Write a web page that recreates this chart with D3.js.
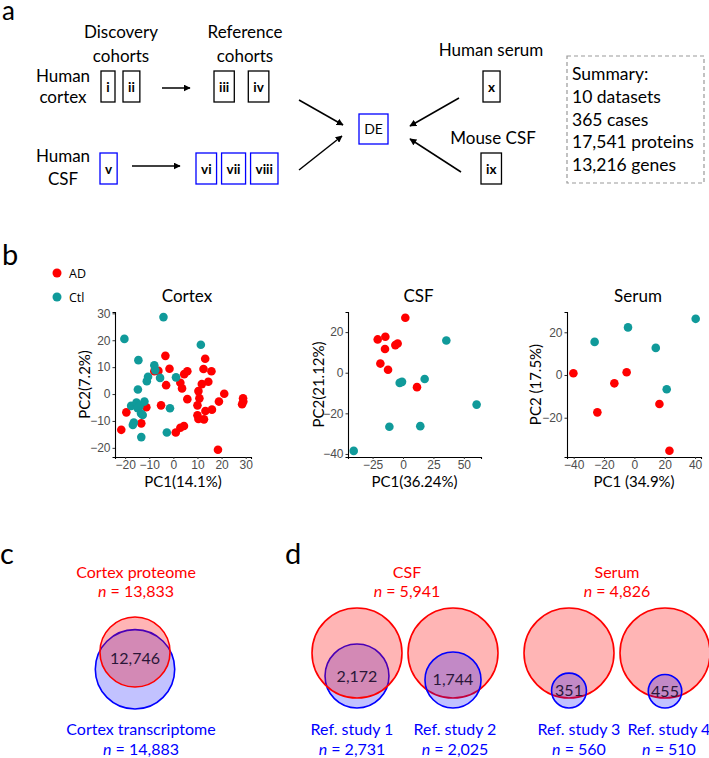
<!DOCTYPE html>
<html><head><meta charset="utf-8">
<script src="https://cdn.jsdelivr.net/npm/d3@7"></script>
<style>body{margin:0;background:#fff}</style>
</head><body>
<svg id="fig" width="709" height="758"></svg>
<script>
// ================= DATA =================
// Panel a: cohort boxes
const cortexDiscovery = ['i', 'ii'];
const cortexReference = ['iii', 'iv'];
const csfDiscovery = ['v'];
const csfReference = ['vi', 'vii', 'viii'];
const serumCohort = ['x'];
const mouseCohort = ['ix'];
const summaryLines = ['Summary:', '10 datasets', '365 cases', '17,541 proteins', '13,216 genes'];

// Panel b: PCA scores [PC1, PC2]
const cortexAD = [[-3.3,14.2],[13.2,13.1],[-7.9,8.5],[-6.2,8.6],[-1.6,9.4],[4.5,7.4],[5.8,8.5],[12.5,9.3],[15.8,8.5],[14.5,4.6],[11.8,3.7],[2.9,4.2],[3.6,2.1],[-3,3.3],[10.4,1.1],[10.8,-1.6],[5.8,-1.9],[21.1,0.1],[28.9,-1.6],[29,-2.8],[28.5,-3.8],[18.9,-2.8],[10,-4.2],[16,-5.8],[13.3,-6.3],[10,-7.9],[10.4,-9.3],[12.7,-9.4],[-5.1,-4.2],[-11.2,-4.9],[-19.5,-6.8],[-13.3,-10.9],[-21.6,-13.3],[2.9,-12.5],[4.4,-11.9],[1,-14.3],[18.5,-20.7]];
const cortexCtl = [[-4.1,28.6],[-20.3,20.5],[11.4,18.3],[-14.5,12.6],[-7.9,10.7],[-7.5,8.9],[-10.5,6.4],[-11,4.8],[-5.5,6],[1.1,6.2],[-14.7,1.7],[-17.5,-4.4],[-15.3,-3.2],[-14,-4.4],[-12,-2.8],[-14.8,-5.3],[-13.4,-7.2],[-12.7,-7.8],[-16.4,-10.6],[-16.8,-11.5],[-1.4,-5.3],[-2.7,-14.3],[-13.3,-16]];
const csfAD = [[1.9,27.1],[-20.8,16.4],[-14.5,17.7],[-14.8,11.7],[-6.3,13.6],[-4.4,14.4],[-18.6,4.5],[-12.3,1.5],[11.5,-7.1]];
const csfCtl = [[35.6,15.9],[-2.7,-5],[-0.8,-4.5],[17.8,-3.1],[60.5,-15.7],[-11.2,-26.6],[14.2,-26.3],[-40.5,-38.5]];
const serumAD = [[-40.2,0.8],[-5.1,1.3],[-13.2,-3.9],[-24.4,-17.5],[16.5,-13.6],[23.1,-35.5]];
const serumCtl = [[40.4,26.3],[-4.2,22.3],[-26.2,15.5],[14.1,12.7],[21.3,-6.7]];
const pcaTitles = ['Cortex', 'CSF', 'Serum'];
const pc1Labels = ['PC1(14.1%)', 'PC1(36.24%)', 'PC1 (34.9%)'];
const pc2Labels = ['PC2(7.2%)', 'PC2(21.12%)', 'PC2 (17.5%)'];
const xTickSets = [[-20,-10,0,10,20,30], [-25,0,25,50], [-40,-20,0,20,40]];
const yTickSets = [[-20,-10,0,10,20,30], [-40,-20,0,20], [-20,0,20]];
const xDomains = [[-24.2,32.2], [-45.2,64.1], [-44.4,43.9]];
const yDomains = [[-23.4,30.5], [-41.5,29.9], [-38.4,29.5]];
const groupNames = ['AD', 'Ctl'];

// Panel c
const cortexSets = ['Cortex proteome', 'Cortex transcriptome'];
const cortexCounts = [13833, 14883];
const cortexOverlap = 12746;

// Panel d
const biofluids = ['CSF', 'Serum'];
const biofluidCounts = [5941, 4826];
const refStudies = ['Ref. study 1', 'Ref. study 2', 'Ref. study 3', 'Ref. study 4'];
const refStudyFluid = [0, 0, 1, 1];
const refCounts = [2731, 2025, 560, 510];
const refOverlaps = [2172, 1744, 351, 455];

// ================= DRAWING =================
const FONT = 'Lato, "Open Sans", sans-serif';
const RED = '#ff0000', BLUE = '#0000ff', TEAL = '#109a9a';
const svg = d3.select('#fig');
svg.append('rect').attr('width', 709).attr('height', 758).attr('fill', '#fff');

function txt(g, x, y, s, opt = {}) {
  return g.append('text').attr('x', x).attr('y', y).text(s)
    .attr('font-family', opt.family || FONT)
    .attr('font-size', opt.size || 16)
    .attr('font-weight', opt.weight || 'normal')
    .attr('fill', opt.fill || '#000')
    .attr('text-anchor', opt.anchor || 'middle');
}

// panel letters
txt(svg, 2, 20, 'a', {size: 26, anchor: 'start'});
txt(svg, 2, 265, 'b', {size: 29, anchor: 'start'});
txt(svg, 0, 564, 'c', {size: 29, anchor: 'start'});
txt(svg, 285, 564, 'd', {size: 29, anchor: 'start'});

// ---------- Panel a ----------
const gA = svg.append('g');
const defs = svg.append('defs');
defs.append('marker').attr('id', 'arr').attr('viewBox', '0 0 10 10')
  .attr('refX', 9).attr('refY', 5).attr('markerWidth', 7).attr('markerHeight', 7)
  .attr('markerUnits', 'userSpaceOnUse').attr('orient', 'auto')
  .append('path').attr('d', 'M0,0L10,5L0,10z').attr('fill', '#000');

txt(gA, 121, 38, 'Discovery', {size: 17});
txt(gA, 121, 61.5, 'cohorts', {size: 17});
txt(gA, 245, 38, 'Reference', {size: 17});
txt(gA, 245, 61.5, 'cohorts', {size: 17});
txt(gA, 63, 81.5, 'Human', {size: 17});
txt(gA, 63, 103, 'cortex', {size: 17});
txt(gA, 63, 162, 'Human', {size: 17});
txt(gA, 63, 185, 'CSF', {size: 17});
txt(gA, 491, 56, 'Human serum', {size: 17});
txt(gA, 493, 144, 'Mouse CSF', {size: 17});

function boxRow(labels, x0, y, gaps, color) {
  let x = x0;
  labels.forEach((lab, i) => {
    const t = txt(gA, 0, y + 20.5, lab, {size: 13.5, weight: 'bold', anchor: 'start'});
    const w = t.node().getComputedTextLength();
    const bw = Math.max(w + 10, 14);
    t.attr('x', x + (bw - w) / 2);
    gA.append('rect').attr('x', x).attr('y', y).attr('width', bw).attr('height', 31)
      .attr('fill', 'none').attr('stroke', color).attr('stroke-width', 1.3);
    x += bw + (gaps[i] || 0);
  });
}
boxRow(cortexDiscovery, 101, 71, [8], '#000');
boxRow(cortexReference, 214, 71, [14], '#000');
boxRow(csfDiscovery, 100, 153, [], BLUE);
boxRow(csfReference, 196, 153, [5, 5], BLUE);
boxRow(serumCohort, 483, 71, [], '#000');
boxRow(mouseCohort, 481, 153, [], '#000');
// DE box
txt(gA, 373.5, 134, 'DE', {size: 14});
gA.append('rect').attr('x', 359).attr('y', 114).attr('width', 29).attr('height', 30)
  .attr('fill', 'none').attr('stroke', BLUE).attr('stroke-width', 1.3);
const arrows = [[162,88,190,88],[132,166,180,166],[299,100,343,125],[299,170,342,136],[459,98,410,126],[461,172,410,139]];
arrows.forEach(a => gA.append('line').attr('x1', a[0]).attr('y1', a[1]).attr('x2', a[2]).attr('y2', a[3])
  .attr('stroke', '#000').attr('stroke-width', 1.5).attr('marker-end', 'url(#arr)'));
// summary
gA.append('rect').attr('x', 567).attr('y', 56).attr('width', 137).attr('height', 127)
  .attr('fill', 'none').attr('stroke', '#999').attr('stroke-width', 1.2).attr('stroke-dasharray', '4,3');
summaryLines.forEach((s, i) => txt(gA, 572, 80 + i * 22.8, s, {size: 17.5, anchor: 'start'}));

// ---------- Panel b ----------
const gB = svg.append('g');
// legend
[[RED, groupNames[0], 273], [TEAL, groupNames[1], 297]].forEach(([c, s, y]) => {
  gB.append('circle').attr('cx', 57).attr('cy', y).attr('r', 4.5).attr('fill', c);
  txt(gB, 69, y + 4.5, s, {size: 12.5, anchor: 'start', family: '"Open Sans", Lato, sans-serif'});
});
const panelsB = [
  {ad: cortexAD, ctl: cortexCtl, xr: [115, 251], ylabX: 90},
  {ad: csfAD, ctl: csfCtl, xr: [348, 481], ylabX: 324},
  {ad: serumAD, ctl: serumCtl, xr: [567, 701], ylabX: 541}
];
panelsB.forEach((p, i) => {
  const yr = [457, 312];
  const x = d3.scaleLinear().domain(xDomains[i]).range(p.xr);
  const y = d3.scaleLinear().domain(yDomains[i]).range(yr);
  const g = gB.append('g');
  const ax = g.append('g').attr('transform', `translate(0,${yr[0]})`)
    .call(d3.axisBottom(x).tickValues(xTickSets[i]).tickSizeOuter(0).tickSize(2).tickPadding(1.5));
  const ay = g.append('g').attr('transform', `translate(${p.xr[0]},0)`)
    .call(d3.axisLeft(y).tickValues(yTickSets[i]).tickSizeOuter(0).tickSize(2.5).tickPadding(2));
  [ax, ay].forEach(a => {
    a.selectAll('text').attr('font-family', '"Liberation Sans", Arial, sans-serif').attr('font-size', 12).attr('fill', '#4d4d4d');
    a.selectAll('line').attr('stroke', '#333');
    a.select('.domain').attr('stroke', '#000').attr('stroke-width', 1.1);
  });
  g.selectAll('circle.ad').data(p.ad).join('circle').attr('class', 'ad')
    .attr('cx', d => x(d[0])).attr('cy', d => y(d[1])).attr('r', 4.3).attr('fill', RED);
  g.selectAll('circle.ctl').data(p.ctl).join('circle').attr('class', 'ctl')
    .attr('cx', d => x(d[0])).attr('cy', d => y(d[1])).attr('r', 4.3).attr('fill', TEAL);
  const cx = (p.xr[0] + p.xr[1]) / 2;
  txt(g, cx + 4, 302, pcaTitles[i], {size: 17});
  txt(g, cx, 487, pc1Labels[i], {size: 15});
  txt(g, 0, 0, pc2Labels[i], {size: 15})
    .attr('transform', `translate(${p.ylabX},${(yr[0] + yr[1]) / 2}) rotate(-90)`);
});

// ---------- Venn helpers ----------
function nLabel(g, x, y, n, color) {
  const t = g.append('text').attr('x', x).attr('y', y).attr('text-anchor', 'middle')
    .attr('font-family', FONT).attr('font-size', 16).attr('fill', color);
  t.append('tspan').attr('font-style', 'italic').text('n');
  t.append('tspan').text(' = ' + d3.format(',')(n));
}
function venn(g, cx, cy, R, r, dy, blueFirst, overlap, labelY) {
  const red = {cx, cy, r: R, fill: 'rgba(255,0,0,0.29)', stroke: RED};
  const blue = {cx, cy: cy + dy, r, fill: 'rgba(0,0,255,0.24)', stroke: BLUE};
  const order = blueFirst ? [blue, red] : [red, blue];
  order.forEach(c => g.append('circle').attr('cx', c.cx).attr('cy', c.cy).attr('r', c.r)
    .attr('fill', c.fill).attr('stroke', c.stroke).attr('stroke-width', 1.6));
  txt(g, cx, (labelY !== undefined ? labelY : cy + dy) + 5.5, d3.format(',')(overlap), {size: 16, fill: '#2a1638'});
}

// ---------- Panel c ----------
const gC = svg.append('g');
const rC = d3.scalePow().exponent(1.7).domain([0, d3.max(cortexCounts)]).range([0, 39.7]);
txt(gC, 136, 578, cortexSets[0], {size: 16, fill: RED});
nLabel(gC, 136, 597, cortexCounts[0], RED);
{
  const R = rC(cortexCounts[0]), r = rC(cortexCounts[1]);
  const cy = 652, dy = R + 22 - r;
  const lblY = ((cy + dy - r) + (cy + R)) / 2;
  venn(gC, 135, cy, R, r, dy, true, cortexOverlap, lblY);
}
txt(gC, 141, 735, cortexSets[1], {size: 16, fill: BLUE});
nLabel(gC, 141, 755, cortexCounts[1], BLUE);

// ---------- Panel d ----------
const gD = svg.append('g');
const fluidX = [407, 617];
biofluids.forEach((b, i) => {
  txt(gD, fluidX[i], 578, b, {size: 16, fill: RED});
  nLabel(gD, fluidX[i], 597, biofluidCounts[i], RED);
});
const vennX = [357, 453, 569, 665];
const labelX = [352, 455, 579, 669];
const R_D = 45;
refStudies.forEach((s, i) => {
  const N = biofluidCounts[refStudyFluid[i]];
  const r = d3.scalePow().exponent(0.44).domain([0, N]).range([0, R_D])(refCounts[i]);
  const cy = 653;
  const dy = (cy + R_D + 10) - r - cy;
  venn(gD, vennX[i], cy, R_D, r, dy, i === 0, refOverlaps[i]);
  txt(gD, labelX[i], 735, s, {size: 16, fill: BLUE});
  nLabel(gD, labelX[i], 755, refCounts[i], BLUE);
});
</script>
</body></html>
